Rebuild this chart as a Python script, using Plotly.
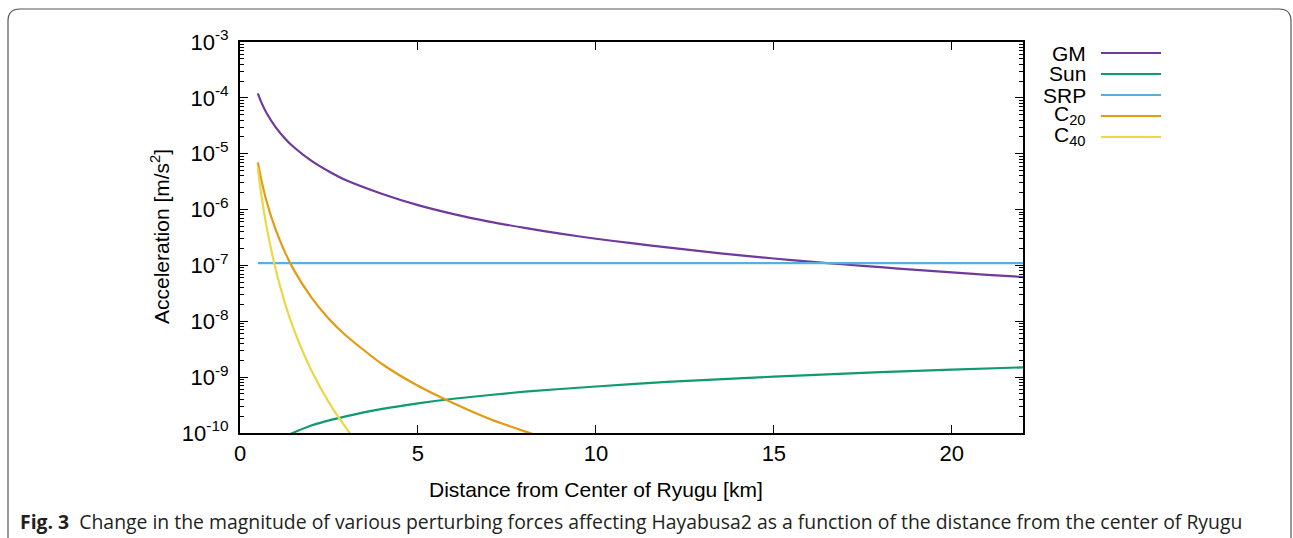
import plotly.graph_objects as go

# ---- data (distance in km, acceleration in m/s^2) ----
gm_x = [0.5, 0.6, 0.75, 1.0, 1.25, 1.5, 2.0, 2.5, 3.0, 4.0, 5.0, 6.0, 7.0, 8.0, 9.0, 10.0, 11.0, 12.0, 13.0, 14.0,
        15.0, 16.0, 17.0, 18.0, 19.0, 20.0, 21.0, 22.0]
gm_y = [1.2e-4, 8.3e-5, 5.3e-5, 3.0e-5, 1.92e-5, 1.33e-5, 7.5e-6, 4.8e-6, 3.3e-6, 1.9e-6, 1.2e-6, 8.3e-7,
        6.1e-7, 4.7e-7, 3.7e-7, 3.0e-7, 2.5e-7, 2.1e-7, 1.78e-7, 1.53e-7, 1.33e-7, 1.17e-7, 1.04e-7, 9.3e-8,
        8.3e-8, 7.5e-8, 6.8e-8, 6.2e-8]

sun_x = [1.4, 2.0, 3.0, 4.0, 5.0, 6.0, 8.0, 10.0, 12.0, 14.0, 16.0, 18.0, 20.0, 22.0]
sun_y = [9.5e-11, 1.36e-10, 2.0e-10, 2.7e-10, 3.4e-10, 4.1e-10, 5.5e-10, 6.8e-10, 8.2e-10, 9.5e-10,
         1.09e-9, 1.23e-9, 1.36e-9, 1.5e-9]

srp_x = [0.5, 22.0]
srp_y = [1.1e-7, 1.1e-7]

c20_x = [0.5, 0.6, 0.75, 1.0, 1.25, 1.5, 2.0, 2.5, 3.0, 4.0, 5.0, 6.0, 7.0, 8.0, 8.5]
c20_y = [7.0e-6, 3.4e-6, 1.38e-6, 4.4e-7, 1.8e-7, 8.6e-8, 2.7e-8, 1.1e-8, 5.4e-9, 1.7e-9, 7.0e-10,
         3.4e-10, 1.8e-10, 1.07e-10, 8.4e-11]

c40_x = [0.5, 0.6, 0.75, 1.0, 1.25, 1.5, 2.0, 2.5, 3.0, 3.3]
c40_y = [5.5e-6, 1.84e-6, 4.8e-7, 8.6e-8, 2.25e-8, 7.5e-9, 1.34e-9, 3.5e-10, 1.18e-10, 6.6e-11]

series_names = ["GM", "Sun", "SRP", "C<sub>20</sub>", "C<sub>40</sub>"]
series_x = [gm_x, sun_x, srp_x, c20_x, c40_x]
series_y = [gm_y, sun_y, srp_y, c20_y, c40_y]
colors = ["#6f3a9b", "#0f9b72", "#5aaedc", "#e39b12", "#ead846"]

x_ticks = [0, 5, 10, 15, 20]
y_tick_exps = [-10, -9, -8, -7, -6, -5, -4, -3]
y_tick_vals = [10.0 ** e for e in y_tick_exps]
y_tick_text = ["10<sup>%d</sup>" % e for e in y_tick_exps]
y_minor = [k * 10.0 ** e for e in y_tick_exps[:-1] for k in range(2, 10)]

x_title = "Distance from Center of Ryugu [km]"
y_title = "Acceleration [m/s<sup>2</sup>]"
caption = ("<b>Fig. 3</b>&nbsp;&nbsp;Change in the magnitude of various perturbing forces affecting "
           "Hayabusa2 as a function of the distance from the center of Ryugu")

# ---- layout geometry ----
W, H = 1293, 538
L, R, T, B = 240, 1023, 42, 433
pw, ph = R - L, B - T


def px(x):
    return (x - L) / pw


def py(y):
    return (B - y) / ph


FONT = "Liberation Sans, Arial, Helvetica, sans-serif"

fig = go.Figure()
for name, xs, ys, c in zip(series_names, series_x, series_y, colors):
    fig.add_trace(go.Scatter(x=xs, y=ys, mode="lines", name=name,
                             line=dict(color=c, width=2.2, shape="spline", smoothing=0.6),
                             showlegend=False, hoverinfo="skip"))

axis_common = dict(showline=True, linecolor="black", linewidth=2, mirror="allticks",
                   ticks="inside", tickcolor="black", tickwidth=1, ticklen=8,
                   showgrid=False, zeroline=False,
                   tickfont=dict(family=FONT, size=22, color="black"))

fig.update_xaxes(range=[0, 22], tickmode="array", tickvals=x_ticks,
                 ticktext=[str(v) for v in x_ticks], ticklabelstandoff=0, **axis_common)
fig.update_yaxes(type="log", range=[-10, -3], tickmode="array", tickvals=y_tick_vals,
                 ticktext=y_tick_text, ticklabelstandoff=5,
                 minor=dict(ticks="inside", ticklen=4, tickwidth=1, tickcolor="black",
                            tickmode="array", tickvals=y_minor, showgrid=False),
                 **axis_common)

annotations = [
    dict(text=x_title, x=px(596), y=py(489), xref="paper", yref="paper",
         showarrow=False, font=dict(family=FONT, size=21, color="black"), xanchor="center", yanchor="middle"),
    dict(text=y_title, x=px(160), y=py(237), xref="paper", yref="paper", textangle=-90,
         showarrow=False, font=dict(family=FONT, size=21, color="black"), xanchor="center", yanchor="middle"),
    dict(text=caption, x=px(18), y=py(521), xref="paper", yref="paper", showarrow=False,
         font=dict(family="Open Sans, Noto Sans, sans-serif", size=19.4, color="#231f20"),
         xanchor="left", yanchor="middle"),
]

shapes = []
legend_rows = [53, 74, 95, 116, 137]
for name, c, yr in zip(series_names, colors, legend_rows):
    annotations.append(dict(text=name, x=px(1088), y=py(yr + (-1 if "sub" in name else 0)),
                            xref="paper", yref="paper", showarrow=False,
                            font=dict(family=FONT, size=21, color="black"),
                            xanchor="right", yanchor="middle"))
    shapes.append(dict(type="line", xref="paper", yref="paper", x0=px(1101), x1=px(1161),
                       y0=py(yr), y1=py(yr), line=dict(color=c, width=2.2)))

# rounded outer frame
bx0, bx1, by0, bybot = px(8), px(1291), py(9), py(560)
rx, ry = 12 / pw, 12 / ph
path = (f"M {bx0},{bybot} L {bx0},{by0 - ry} Q {bx0},{by0} {bx0 + rx},{by0} "
        f"L {bx1 - rx},{by0} Q {bx1},{by0} {bx1},{by0 - ry} L {bx1},{bybot}")
shapes.append(dict(type="path", xref="paper", yref="paper", path=path,
                   line=dict(color="#555555", width=1.2)))

fig.update_layout(width=W, height=H, margin=dict(l=L, r=W - R, t=T, b=H - B),
                  paper_bgcolor="white", plot_bgcolor="white",
                  annotations=annotations, shapes=shapes, showlegend=False)

fig.write_html("out.html")
